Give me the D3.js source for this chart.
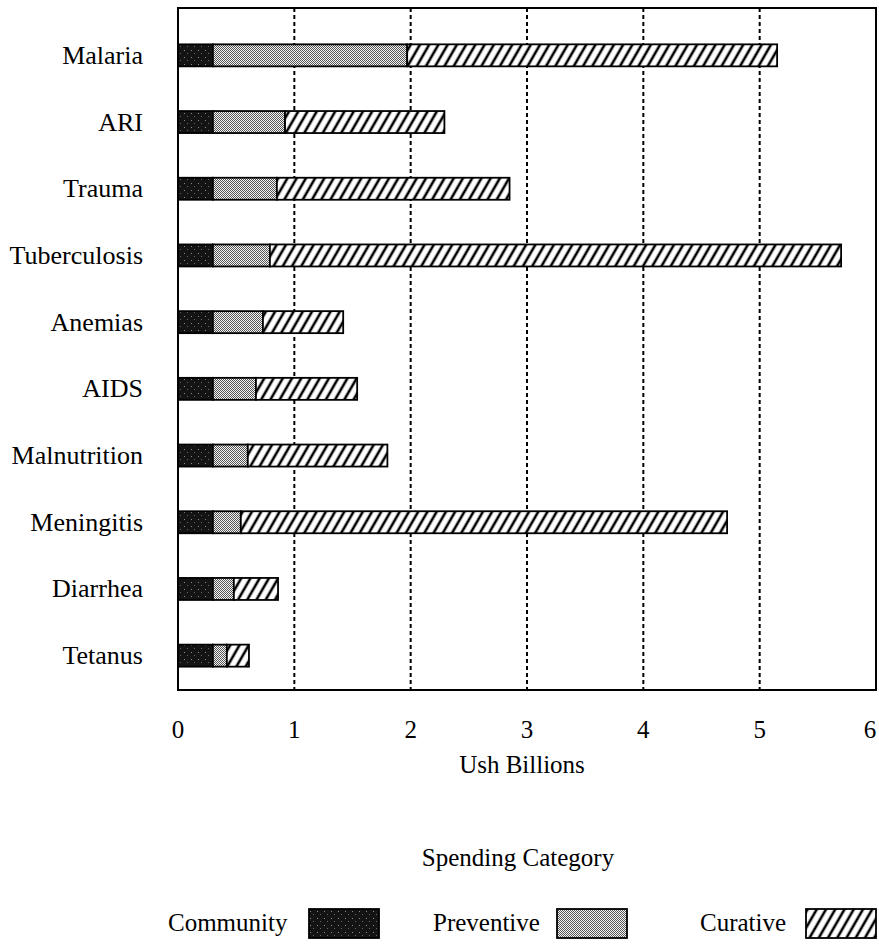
<!DOCTYPE html>
<html>
<head>
<meta charset="utf-8">
<script src="https://cdn.jsdelivr.net/npm/d3@7"></script>
<style>
  body { margin: 0; background: #fff; }
  text { font-family: 'Liberation Serif', 'DejaVu Serif', serif; fill: #000; }
</style>
</head>
<body>
<div id="chart"></div>
<script>
// values (Ush billions)
const categories = ['Malaria', 'ARI', 'Trauma', 'Tuberculosis', 'Anemias', 'AIDS', 'Malnutrition', 'Meningitis', 'Diarrhea', 'Tetanus'];
const community = [0.30, 0.30, 0.30, 0.30, 0.30, 0.30, 0.30, 0.30, 0.30, 0.30];
const preventive = [1.67, 0.62, 0.55, 0.49, 0.43, 0.37, 0.30, 0.24, 0.18, 0.12];
const curative = [3.18, 1.37, 2.00, 4.91, 0.69, 0.87, 1.20, 4.18, 0.38, 0.19];
const seriesNames = ['Community', 'Preventive', 'Curative'];
const xTicks = [0, 1, 2, 3, 4, 5, 6];

let W = 879, H = 945;
let margin = {top: 8, right: 3, bottom: 257, left: 178};

let svg = d3.select('#chart').append('svg')
    .attr('width', W)
    .attr('height', H);

let defs = svg.append('defs');
// Community: near-black with speckle
let pc = defs.append('pattern').attr('id', 'pat-community')
    .attr('patternUnits', 'userSpaceOnUse').attr('width', 7).attr('height', 7);
pc.append('rect').attr('width', 7).attr('height', 7).attr('fill', '#141414');
pc.append('rect').attr('x', 2).attr('y', 1).attr('width', 1).attr('height', 1).attr('fill', '#8a8a8a');
pc.append('rect').attr('x', 5).attr('y', 4).attr('width', 1).attr('height', 1).attr('fill', '#666');
// Preventive: fine grey checker
let pp = defs.append('pattern').attr('id', 'pat-preventive')
    .attr('patternUnits', 'userSpaceOnUse').attr('width', 2).attr('height', 2);
pp.append('rect').attr('width', 2).attr('height', 2).attr('fill', '#f4f4f4');
pp.append('rect').attr('x', 0).attr('y', 0).attr('width', 1).attr('height', 1).attr('fill', '#555');
pp.append('rect').attr('x', 1).attr('y', 1).attr('width', 1).attr('height', 1).attr('fill', '#555');
// Curative: diagonal hatch
let ph = defs.append('pattern').attr('id', 'pat-curative')
    .attr('patternUnits', 'userSpaceOnUse').attr('width', 8).attr('height', 8)
    .attr('patternTransform', 'rotate(30)');
ph.append('rect').attr('width', 8).attr('height', 8).attr('fill', '#fff');
ph.append('line').attr('x1', 2).attr('y1', 0).attr('x2', 2).attr('y2', 8)
    .attr('stroke', '#000').attr('stroke-width', 2.6);

let fills = {Community: 'url(#pat-community)', Preventive: 'url(#pat-preventive)', Curative: 'url(#pat-curative)'};

let x = d3.scaleLinear()
    .domain([0, 6])
    .range([margin.left, W - margin.right]);
let y = d3.scaleBand()
    .domain(categories)
    .range([22, 689])
    .paddingInner(0.67)
    .paddingOuter(0.335);

let rows = categories.map((c, i) => ({cat: c, Community: community[i], Preventive: preventive[i], Curative: curative[i]}));
let stacked = d3.stack().keys(seriesNames)(rows);

let plotBottom = H - margin.bottom + 2;

// dashed vertical gridlines
svg.append('g').selectAll('line.grid')
    .data(xTicks.filter(d => d > 0 && d < 6)).enter().append('line')
    .attr('x1', d => x(d)).attr('x2', d => x(d))
    .attr('y1', margin.top).attr('y2', plotBottom)
    .attr('stroke', '#000')
    .attr('stroke-width', 2)
    .attr('stroke-dasharray', '4,3');

// frame
svg.append('rect')
    .attr('x', x(0)).attr('y', margin.top)
    .attr('width', x(6) - x(0)).attr('height', plotBottom - margin.top)
    .attr('fill', 'none').attr('stroke', '#000').attr('stroke-width', 2);

// bars
svg.append('g').selectAll('g.series')
    .data(stacked).enter().append('g')
    .attr('fill', d => fills[d.key])
    .selectAll('rect')
    .data(d => d).enter().append('rect')
    .attr('x', d => x(d[0]))
    .attr('width', d => x(d[1]) - x(d[0]))
    .attr('y', d => y(d.data.cat))
    .attr('height', y.bandwidth())
    .attr('stroke', '#000')
    .attr('stroke-width', 1.8);

// category labels
svg.append('g').selectAll('text.cat')
    .data(categories).enter().append('text')
    .attr('x', 143)
    .attr('y', d => y(d) + y.bandwidth() / 2)
    .attr('text-anchor', 'end')
    .attr('dominant-baseline', 'central')
    .style('font-size', '26px')
    .text(d => d);

// x tick labels
svg.append('g').selectAll('text.tick')
    .data(xTicks).enter().append('text')
    .attr('x', d => x(d) - (d === 6 ? 6 : 0))
    .attr('y', 729)
    .attr('text-anchor', 'middle')
    .attr('dominant-baseline', 'central')
    .style('font-size', '25px')
    .text(d => d);

svg.append('text') // x axis title
    .attr('x', 522).attr('y', 764)
    .attr('text-anchor', 'middle')
    .attr('dominant-baseline', 'central')
    .style('font-size', '25px')
    .text('Ush Billions');

svg.append('text') // legend title
    .attr('x', 518).attr('y', 857)
    .attr('text-anchor', 'middle')
    .attr('dominant-baseline', 'central')
    .style('font-size', '25px')
    .text('Spending Category');

// legend
let legendX = [{text: 168, box: 309}, {text: 433, box: 557}, {text: 700, box: 806}];
let legend = svg.append('g').selectAll('g.leg')
    .data(seriesNames).enter().append('g');
legend.append('text')
    .attr('x', (d, i) => legendX[i].text)
    .attr('y', 922)
    .attr('dominant-baseline', 'central')
    .style('font-size', '25px')
    .text(d => d);
legend.append('rect')
    .attr('x', (d, i) => legendX[i].box)
    .attr('y', 909)
    .attr('width', 70)
    .attr('height', 29)
    .attr('fill', d => fills[d])
    .attr('stroke', '#000')
    .attr('stroke-width', 1.8);
</script>
</body>
</html>
